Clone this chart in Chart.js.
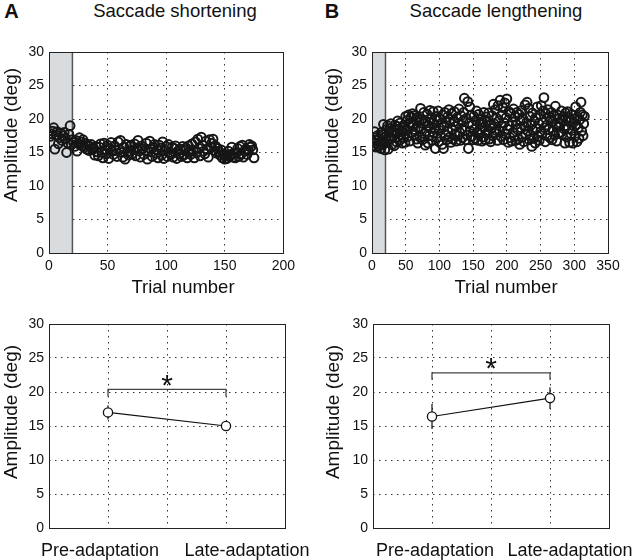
<!DOCTYPE html>
<html>
<head>
<meta charset="utf-8">
<script src="https://cdn.jsdelivr.net/npm/chart.js@4.4.1/dist/chart.umd.min.js"></script>
<style>
    body { margin: 0; background: #fff; }
    #fig { position: relative; width: 640px; height: 560px; overflow: hidden; }
    .panel { position: absolute; }
    .lbl {
        position: absolute;
        transform: translate(-50%, -50%);
        white-space: nowrap;
        line-height: 1;
        font-family: 'Liberation Sans', Arial, sans-serif;
        color: #111;
    }
    .rot { transform: translate(-50%, -50%) rotate(-90deg); }
</style>
</head>
<body>
<div id="fig">
    <div class="panel" style="left:0;top:30px"><canvas id="topA" width="300" height="275"></canvas></div>
    <div class="panel" style="left:320px;top:30px"><canvas id="topB" width="320" height="275"></canvas></div>
    <div class="panel" style="left:0;top:300px"><canvas id="botA" width="320" height="260"></canvas></div>
    <div class="panel" style="left:320px;top:300px"><canvas id="botB" width="320" height="260"></canvas></div>

    <div class="lbl" style="left:11.5px;top:10.5px;font-size:20px;font-weight:bold">A</div>
    <div class="lbl" style="left:175px;top:10.5px;font-size:18.5px">Saccade shortening</div>
    <div class="lbl" style="left:332px;top:10.5px;font-size:20px;font-weight:bold">B</div>
    <div class="lbl" style="left:496px;top:10.5px;font-size:18.5px">Saccade lengthening</div>

    <div class="lbl rot" style="left:10px;top:135px;font-size:19px">Amplitude (deg)</div>
    <div class="lbl rot" style="left:331px;top:135px;font-size:19px">Amplitude (deg)</div>
    <div class="lbl rot" style="left:10px;top:412px;font-size:19px">Amplitude (deg)</div>
    <div class="lbl rot" style="left:332px;top:412px;font-size:19px">Amplitude (deg)</div>

    <div class="lbl" style="left:183px;top:287px;font-size:18.5px">Trial number</div>
    <div class="lbl" style="left:506px;top:287px;font-size:18.5px">Trial number</div>
</div>

<script>
// Trial-by-trial saccade amplitudes (deg)
const ampShortening = [
    17.4, 17.8, 18.2, 18.7, 15.5, 17.6, 18.1, 16.3, 17.2, 17.9,
    16.8, 17.5, 18.0, 17.1, 15.0, 16.4, 17.7, 19.0, 16.2, 16.9,
    16.5, 15.9, 16.8, 15.2, 16.3, 17.2, 16.6, 16.0, 16.9, 15.8,
    16.4, 15.5, 16.1, 15.3, 15.9, 16.2, 15.4, 15.7, 14.6, 15.9,
    15.1, 14.5, 15.8, 16.3, 15.0, 14.2, 16.4, 15.4, 14.8, 16.1,
    14.1, 15.6, 16.5, 15.2, 14.7, 16.0, 15.3, 14.4, 16.6, 15.5,
    16.8, 15.0, 14.3, 15.8, 14.0, 16.2, 15.1, 14.6, 15.9, 16.1,
    14.8, 15.4, 16.3, 14.5, 15.7, 16.8, 15.2, 14.3, 16.0, 15.6,
    14.7, 15.3, 16.4, 14.0, 15.1, 16.7, 15.5, 14.4, 15.8, 16.2,
    14.9, 15.4, 14.2, 16.1, 15.7, 14.6, 16.6, 14.1, 15.3, 15.9,
    14.4, 16.2, 15.0, 14.7, 15.8, 14.3, 15.6, 16.0, 14.1, 15.2,
    14.8, 15.5, 14.4, 15.9, 14.6, 15.3, 15.7, 14.2, 16.0, 15.1,
    14.7, 16.3, 15.4, 14.2, 16.6, 15.0, 17.0, 15.6, 14.5, 17.3,
    16.1, 15.2, 14.8, 16.7, 15.5, 14.3, 16.9, 15.8, 16.4, 17.0,
    15.3, 16.0, 14.9, 15.6, 15.1, 14.6, 15.4, 14.2, 14.8, 14.0,
    14.5, 14.1, 15.2, 14.4, 14.7, 15.8, 14.3, 14.9, 14.2, 15.0,
    15.6, 14.4, 15.9, 14.8, 16.1, 14.3, 15.2, 15.5, 14.7, 15.3,
    16.2, 15.8, 16.0, 15.4, 14.2
];

const ampLengthening = [
    16.6, 16.0, 17.2, 18.1, 16.4, 15.8, 16.9, 17.5, 16.2, 15.9,
    17.0, 16.5, 15.6, 18.0, 16.8, 17.7, 19.2, 16.3, 15.4, 17.3,
    18.4, 16.7, 19.0, 15.5, 17.9, 16.9, 18.6, 19.3, 17.1, 16.2,
    18.2, 17.5, 16.0, 19.1, 17.8, 16.6, 18.9, 19.7, 17.3, 18.5,
    16.8, 19.4, 17.6, 18.1, 16.4, 19.0, 17.2, 18.7, 16.5, 20.4,
    18.3, 19.8, 17.4, 20.6, 18.9, 16.7, 19.5, 20.3, 18.0, 20.8,
    19.2, 17.6, 20.5, 18.4, 19.9, 17.0, 20.2, 16.4, 18.8, 19.6,
    17.3, 21.6, 18.5, 20.0, 16.9, 19.3, 21.0, 17.8, 16.1, 19.7,
    18.2, 20.7, 16.4, 19.0, 17.5, 21.3, 18.6, 20.1, 16.8, 19.4,
    21.1, 17.9, 18.7, 15.6, 20.4, 17.2, 19.8, 21.2, 16.6, 18.3,
    20.0, 17.4, 19.1, 16.2, 20.6, 15.6, 18.8, 21.0, 17.7, 19.5,
    16.9, 20.3, 18.1, 21.4, 17.3, 19.9, 16.5, 20.8, 18.4, 17.0,
    19.6, 21.1, 17.8, 18.9, 16.7, 20.2, 17.5, 19.3, 21.5, 18.0,
    16.8, 20.5, 18.6, 17.2, 19.7, 21.0, 23.1, 18.3, 16.9, 20.1,
    17.6, 22.6, 15.6, 19.4, 21.8, 18.2, 20.6, 17.4, 19.1, 16.9,
    20.4, 18.5, 17.1, 19.8, 21.2, 18.0, 16.8, 20.7, 17.7, 19.2,
    18.4, 20.0, 16.7, 19.5, 17.3, 21.0, 18.8, 16.9, 20.3, 17.8,
    19.6, 18.1, 20.9, 17.0, 19.0, 16.6, 18.6, 20.5, 17.5, 22.2,
    19.3, 17.9, 21.4, 18.3, 20.1, 16.8, 22.0, 19.7, 18.2, 22.8,
    17.4, 20.6, 18.9, 21.7, 16.9, 19.4, 22.4, 17.8, 20.2, 23.0,
    18.5, 16.5, 21.1, 19.0, 17.2, 20.8, 16.7, 19.6, 18.0, 21.5,
    17.5, 20.3, 16.8, 19.2, 21.0, 18.4, 17.0, 20.7, 16.2, 19.8,
    18.7, 21.3, 17.3, 20.0, 16.6, 18.9, 22.1, 17.7, 19.4, 22.5,
    18.2, 21.6, 16.9, 20.4, 17.6, 19.1, 15.9, 20.9, 18.3, 17.1,
    19.7, 16.4, 20.2, 18.6, 21.8, 17.4, 19.3, 16.8, 20.6, 18.1,
    22.0, 17.8, 19.5, 21.2, 23.2, 18.7, 16.6, 20.8, 19.1, 17.5,
    21.4, 18.4, 20.3, 17.2, 19.9, 21.0, 16.9, 19.6, 18.2, 20.5,
    17.6, 21.9, 19.2, 16.7, 20.6, 18.8, 17.9, 20.1, 19.4, 18.0,
    21.2, 17.7, 19.8, 20.4, 18.5, 16.4, 20.9, 19.0, 17.3, 21.1,
    18.6, 20.2, 16.5, 19.7, 17.8, 20.7, 18.3, 16.4, 19.5, 20.0,
    17.4, 21.8, 19.1, 16.6, 20.3, 18.7, 17.1, 19.9, 21.0, 22.5,
    18.2, 20.6, 17.5, 19.3, 20.4
];

// Baseline (shaded) trials
const baselineTrials = 20;

// Summary panels
const phaseLabels = ['Pre-adaptation', 'Late-adaptation'];
const phasePos = [1, 3];
const meanShortening = [17.0, 15.0];
const errShortening = [1.05, 0.3];
const meanLengthening = [16.4, 19.1];
const errLengthening = [1.85, 1.6];
// significance bracket: [leg bottom, bar height], star height
const bracketShortening = [19.3, 20.4];
const starShortening = 22.0;
const bracketLengthening = [21.8, 22.8];
const starLengthening = 24.5;

const FONT = "'Liberation Sans', Arial, sans-serif";
Chart.defaults.font.family = FONT;
Chart.defaults.color = '#111';

const gridStyle = { color: '#333', lineWidth: 1, drawTicks: false };
const dotted = { display: false, dash: [1.5, 4.5] };

// Plot frame drawn over everything
const framePlugin = {
    id: 'frame',
    afterDraw(chart) {
        const { ctx, chartArea: a } = chart;
        ctx.save();
        ctx.strokeStyle = '#222';
        ctx.lineWidth = 1;
        ctx.strokeRect(Math.round(a.left) + 0.5, Math.round(a.top) + 0.5,
            Math.round(a.width), Math.round(a.height));
        ctx.restore();
    }
};

// Category labels + significance star for the summary panels
const phasePlugin = {
    id: 'phase',
    afterDraw(chart, args, opts) {
        const { ctx, scales: { x, y }, chartArea } = chart;
        ctx.save();
        ctx.fillStyle = '#111';
        ctx.textAlign = 'center';
        ctx.textBaseline = 'alphabetic';
        ctx.font = '18px ' + FONT;
        phaseLabels.forEach((lab, i) => {
            ctx.fillText(lab, x.getPixelForValue(phasePos[i]) + opts.shift[i], chartArea.bottom + 27.5);
        });
        ctx.font = '30px ' + FONT;
        ctx.fillText('*', x.getPixelForValue((phasePos[0] + phasePos[1]) / 2), y.getPixelForValue(opts.star) + 17);
        ctx.restore();
    }
};

function yScale(width) {
    return {
        type: 'linear',
        min: 0,
        max: 30,
        ticks: { stepSize: 5, padding: 5, font: { size: 14 }, color: '#111' },
        grid: gridStyle,
        border: dotted,
        afterFit: s => { s.width = width; }
    };
}

// Top panels: trial-by-trial amplitude
function makeTrialChart(id, amps, xMax, yWidth, padRight) {
    const ctx = document.getElementById(id).getContext('2d');
    return new Chart(ctx, {
        type: 'scatter',
        data: {
            datasets: [
                {
                    label: 'Amplitude',
                    data: amps.map((v, i) => ({ x: i + 1, y: v })),
                    pointRadius: 4.4,
                    pointBorderWidth: 2,
                    pointBorderColor: '#161616',
                    pointBackgroundColor: 'rgba(0,0,0,0)',
                    order: 1
                },
                {
                    label: 'baseline edge',
                    data: [{ x: baselineTrials, y: 0 }, { x: baselineTrials, y: 30 }],
                    showLine: true,
                    borderColor: '#555',
                    borderWidth: 1.5,
                    pointRadius: 0,
                    order: 2
                },
                {
                    label: 'baseline',
                    data: [{ x: 0, y: 30 }, { x: baselineTrials, y: 30 }],
                    showLine: true,
                    fill: 'origin',
                    backgroundColor: '#d9dcdf',
                    borderWidth: 0,
                    pointRadius: 0,
                    order: 3
                }
            ]
        },
        options: {
            responsive: false,
            animation: false,
            devicePixelRatio: 1,
            layout: { padding: { top: 22, left: 0, right: padRight, bottom: 0 } },
            plugins: { legend: { display: false }, tooltip: { enabled: false } },
            scales: {
                x: {
                    type: 'linear',
                    min: 0,
                    max: xMax,
                    ticks: { stepSize: 50, padding: 5, font: { size: 14 }, color: '#111' },
                    grid: gridStyle,
                    border: dotted,
                    afterFit: s => { s.height = 52; }
                },
                y: yScale(yWidth)
            }
        },
        plugins: [framePlugin]
    });
}

// Bottom panels: pre vs late adaptation means
function makeSummaryChart(id, means, errs, bracket, star, yWidth, padRight, shift) {
    const ctx = document.getElementById(id).getContext('2d');
    const errPts = [];
    phasePos.forEach((p, i) => {
        if (i > 0) errPts.push({ x: (phasePos[i - 1] + p) / 2, y: null });
        errPts.push({ x: p, y: means[i] - errs[i] }, { x: p, y: means[i] + errs[i] });
    });
    return new Chart(ctx, {
        type: 'scatter',
        data: {
            datasets: [
                {
                    label: 'Mean',
                    data: phasePos.map((p, i) => ({ x: p, y: means[i] })),
                    showLine: true,
                    borderColor: '#111',
                    borderWidth: 1.2,
                    pointRadius: 4.6,
                    pointBorderWidth: 1.3,
                    pointBorderColor: '#111',
                    pointBackgroundColor: '#fff',
                    order: 1
                },
                {
                    label: 'SD',
                    data: errPts,
                    showLine: true,
                    spanGaps: false,
                    borderColor: '#111',
                    borderWidth: 1.2,
                    pointRadius: 0,
                    order: 2
                },
                {
                    label: 'bracket',
                    data: [
                        { x: phasePos[0], y: bracket[0] }, { x: phasePos[0], y: bracket[1] },
                        { x: phasePos[1], y: bracket[1] }, { x: phasePos[1], y: bracket[0] }
                    ],
                    showLine: true,
                    borderColor: '#444',
                    borderWidth: 1.3,
                    pointRadius: 0,
                    order: 3
                }
            ]
        },
        options: {
            responsive: false,
            animation: false,
            devicePixelRatio: 1,
            layout: { padding: { top: 24, left: 0, right: padRight, bottom: 0 } },
            plugins: {
                legend: { display: false },
                tooltip: { enabled: false },
                phase: { shift: shift, star: star }
            },
            scales: {
                x: {
                    type: 'linear',
                    min: 0,
                    max: 4,
                    ticks: { stepSize: 1, display: false },
                    grid: gridStyle,
                    border: dotted,
                    afterFit: s => { s.height = 32; }
                },
                y: yScale(yWidth)
            }
        },
        plugins: [framePlugin, phasePlugin]
    });
}

makeTrialChart('topA', ampShortening, 200, 49, 15);
makeTrialChart('topB', ampLengthening, 350, 52, 32);
makeSummaryChart('botA', meanShortening, errShortening, bracketShortening, starShortening, 49, 35, [-8, 21]);
makeSummaryChart('botB', meanLengthening, errLengthening, bracketLengthening, starLengthening, 53, 31, [3, 20]);
</script>
</body>
</html>
